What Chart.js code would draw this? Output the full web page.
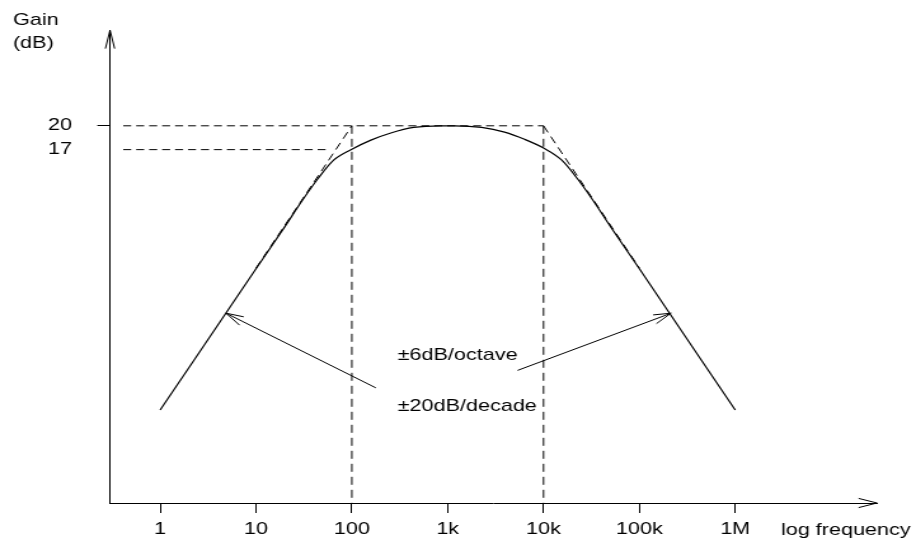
<!DOCTYPE html>
<html><head><meta charset="utf-8">
<script src="https://cdn.jsdelivr.net/npm/chart.js@4.4.1/dist/chart.umd.min.js"></script>
<style>
html,body{margin:0;padding:0;background:#fff;overflow:hidden;}
#wrap{width:721px;height:553px;transform:scaleX(1.270458);transform-origin:0 0;}
canvas{display:block;}
</style></head><body>
<div id="wrap"><canvas id="c" width="721" height="553"></canvas></div>
<script>
// ---- data ----
const freq = [1, 10, 20, 30, 44, 65, 100, 158, 255, 442, 845, 1180, 2260, 3920, 6330, 10000, 15400, 22700, 33300, 50000, 100000, 1000000];
const gain = [-15.8, 2.0, 7.3, 10.5, 13.3, 15.7, 17.05, 18.2, 19.1, 19.8, 20.0, 20.0, 19.8, 19.2, 18.3, 17.2, 15.7, 13.3, 10.5, 7.3, 2.0, -15.8];

const tickFreqs = [1, 10, 100, 1000, 10000, 100000, 1000000];
const tickLabels = ['1', '10', '100', '1k', '10k', '100k', '1M'];
const gainTicks = [20, 17];
const gainTickLabels = ['20', '17'];

const xMin = 0.3088, xMax = 3.013e7;
const yMin = -27.5, yMax = 32.04;

const level20Freq = [0.412, 10000], level20Gain = [20, 20];
const level17Freq = [0.412, 60], level17Gain = [17, 17];
const corner100Freq = [100, 100], corner100Gain = [20, yMin];
const corner10kFreq = [10000, 10000], corner10kGain = [20, yMin];
const asymLowFreq = [10, 100], asymLowGain = [2.08, 20];
const asymHighFreq = [10000, 100000], asymHighGain = [20, 2.08];

const arrowTailFreq = [178, 5360], arrowTailGain = [-13.0, -10.8];
const arrowTipFreq = [4.87, 214000], arrowTipGain = [-3.6, -3.6];

const noteTexts = ['\u00b16dB/octave', '\u00b120dB/decade'];
const noteFreq = [301, 301], noteGain = [-8.96, -15.34];

// ---- drawing ----
const S = 916 / 721;
const FONT = '"Liberation Sans", Arial, Helvetica, sans-serif';
Chart.defaults.color = '#000';
Chart.defaults.font.family = FONT;
Chart.defaults.font.size = 17;

const pts = (fs, gs) => fs.map((f, i) => ({x: f, y: gs[i]}));
const dashed = (fs, gs, dash, w) => ({data: pts(fs, gs), borderColor: '#000', borderWidth: w || 1, borderDash: dash, pointRadius: 0, fill: false, tension: 0});

function head(ctx, tx, ty, fx, fy, len, half) {
  const sx = tx * S, sfx = fx * S;
  const ang = Math.atan2(fy - ty, sfx - sx);
  for (const sg of [-1, 1]) {
    const a = ang + sg * half;
    ctx.moveTo(tx, ty);
    ctx.lineTo((sx + len * Math.cos(a)) / S, ty + len * Math.sin(a));
  }
}

const overlay = {
  id: 'overlay',
  afterDraw(chart) {
    const {ctx, chartArea: a, scales: {x, y}} = chart;
    ctx.save();
    ctx.strokeStyle = '#000';
    ctx.lineWidth = 1;
    ctx.beginPath();
    for (let i = 0; i < arrowTipFreq.length; i++) {
      const tx = x.getPixelForValue(arrowTipFreq[i]), ty = y.getPixelForValue(arrowTipGain[i]);
      const fx = x.getPixelForValue(arrowTailFreq[i]), fy = y.getPixelForValue(arrowTailGain[i]);
      ctx.moveTo(fx, fy); ctx.lineTo(tx, ty);
      head(ctx, tx, ty, fx, fy, 18, 15 * Math.PI / 180);
    }
    // axis arrowheads
    head(ctx, a.left, a.top, a.left, a.top + 10, 19, 14 * Math.PI / 180);
    head(ctx, a.right, a.bottom, a.right - 10, a.bottom, 19, 14 * Math.PI / 180);
    ctx.stroke();

    ctx.fillStyle = '#000';
    ctx.font = '17px ' + FONT;
    ctx.textAlign = 'left';
    ctx.textBaseline = 'middle';
    for (let i = 0; i < noteTexts.length; i++) {
      ctx.fillText(noteTexts[i], x.getPixelForValue(noteFreq[i]), y.getPixelForValue(noteGain[i]));
    }
    ctx.fillText('Gain', 10.2, 20);
    ctx.fillText('(dB)', 10.2, 43);
    ctx.fillText('log frequency', 614.7, a.bottom + 27);
    ctx.restore();
  }
};

new Chart(document.getElementById('c'), {
  type: 'line',
  data: {
    datasets: [
      {data: pts(freq, gain), borderColor: '#000', borderWidth: 1.2, pointRadius: 0, fill: false, cubicInterpolationMode: 'monotone'},
      dashed(level20Freq, level20Gain, [6.3, 3.9]),
      dashed(level17Freq, level17Gain, [6.3, 3.9]),
      dashed(corner100Freq, corner100Gain, [8, 5]),
      dashed(corner10kFreq, corner10kGain, [8, 5]),
      dashed(asymLowFreq, asymLowGain, [7.5, 4.7]),
      dashed(asymHighFreq, asymHighGain, [7.5, 4.7])
    ]
  },
  options: {
    responsive: false,
    animation: false,
    devicePixelRatio: 1,
    layout: {padding: {top: 27, right: 30.7, left: 0, bottom: 0}},
    plugins: {legend: {display: false}, tooltip: {enabled: false}},
    scales: {
      x: {
        type: 'logarithmic', min: xMin, max: xMax,
        afterBuildTicks: s => { s.ticks = tickFreqs.map(v => ({value: v})); },
        afterFit: s => { s.height = 50; },
        ticks: {autoSkip: false, maxRotation: 0, minRotation: 0, padding: 6, color: '#000',
                callback: (v, i) => tickLabels[i]},
        grid: {display: true, drawOnChartArea: false, drawTicks: true, tickLength: 10, color: '#000', lineWidth: 1},
        border: {display: true, color: '#000', width: 1}
      },
      y: {
        type: 'linear', min: yMin, max: yMax,
        afterBuildTicks: s => { s.ticks = gainTicks.map(v => ({value: v})); },
        afterFit: s => { s.width = 86.6; },
        ticks: {padding: 20, color: '#000', callback: (v, i) => gainTickLabels[i]},
        grid: {display: true, drawOnChartArea: false, drawTicks: true, tickLength: 10, lineWidth: 1,
               color: c => (c.tick && c.tick.value === 20) ? '#000' : 'rgba(0,0,0,0)'},
        border: {display: true, color: '#000', width: 1}
      }
    }
  },
  plugins: [overlay]
});
</script>
</body></html>
